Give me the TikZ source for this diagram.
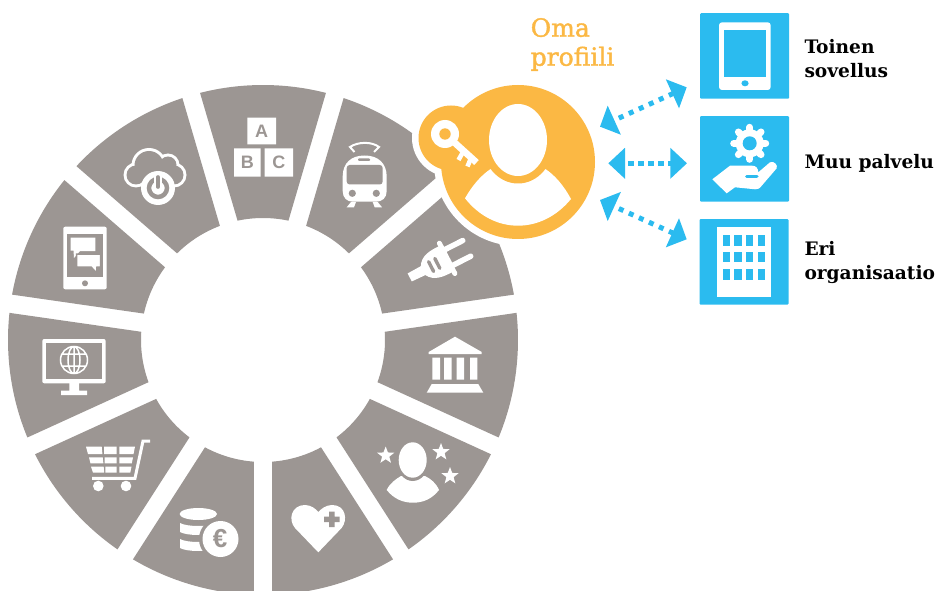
\documentclass[tikz,border=0pt]{standalone}
\usepackage{fontspec}
\setmainfont{DejaVu Serif}
\newfontfamily\iconsans{Liberation Sans}
\newfontfamily\profilefont[FakeBold=1.5]{DejaVu Serif}
\usetikzlibrary{arrows.meta}
\definecolor{wheelgrey}{HTML}{9C9693}
\definecolor{profileorange}{HTML}{FBB844}
\definecolor{appblue}{HTML}{2BBBEF}
\newcommand{\wstar}[3]{\fill[white,shift={(#1,#2)}] (-90:#3) -- (-54:{0.42*#3}) -- (-18:#3) -- (18:{0.42*#3}) -- (54:#3) -- (90:{0.42*#3}) -- (126:#3) -- (162:{0.42*#3}) -- (198:#3) -- (234:{0.42*#3}) -- cycle;}
\tikzset{
  bluebox/.style={fill=appblue,rounded corners=1pt,minimum width=89pt,minimum height=85.5pt,inner sep=0pt,draw=none},
  applabel/.style={font=\bfseries\fontsize{18.6}{24}\selectfont,anchor=base west,inner sep=0pt,align=left,text=black},
  proflabel/.style={font=\profilefont\fontsize{25}{29}\selectfont,anchor=base west,inner sep=0pt,align=left,text=profileorange},
  diagarrow/.style={draw=appblue,line width=5pt,dash pattern=on 5pt off 6pt,dash phase=5pt,{Triangle[length=15.7pt,width=31pt,fill=appblue]}-{Triangle[length=15.7pt,width=31pt,fill=appblue]}},
  midarrow/.style={draw=appblue,line width=5.3pt,dash pattern=on 5.7pt off 4.3pt,dash phase=5.7pt,{Triangle[length=16.7pt,width=30pt,fill=appblue]}-{Triangle[length=16.7pt,width=30pt,fill=appblue]}},
  blockletter/.style={font=\iconsans\bfseries\fontsize{18}{18}\selectfont,text=wheelgrey,inner sep=0pt},
}
\begin{document}
\begin{tikzpicture}[x=1pt,y=1pt,yscale=-1]
\useasboundingbox (0,0) rectangle (938,591);
\clip (0,0) rectangle (938,591);
% wheel
\begin{scope}[shift={(263,340)}]
\foreach \i in {0,...,10}{
  \pgfmathsetmacro\a{-90+\i*360/11}
  \pgfmathsetmacro\ao{\a-14.296}\pgfmathsetmacro\bo{\a+14.296}
  \pgfmathsetmacro\ai{\a-12.04}\pgfmathsetmacro\bi{\a+12.04}
  \fill[wheelgrey] (\ao:255) arc[start angle=\ao,end angle=\bo,radius=255pt] -- (\bi:122) arc[start angle=\bi,end angle=\ai,radius=122pt] -- cycle;
}
\end{scope}
% ABC blocks
\fill[white] (247.3,117.7) rectangle (276,144.3) (234,148.3) rectangle (260.7,176.7) (264.7,148.3) rectangle (293,176.7);
\node[blockletter] (letterA) at (261.6,131) {A};
\node[blockletter] (letterB) at (247.4,162.5) {B};
\node[blockletter] (letterC) at (278.8,162.5) {C};
% train
\fill[white] (342.7,176) .. controls (343,163) and (351,155.5) .. (364.7,155.5) .. controls (378,155.5) and (386.4,163) .. (386.7,176) -- (386.7,191) .. controls (386.7,198) and (382,201.7) .. (376,201.7) -- (353,201.7) .. controls (347,201.7) and (342.7,198) .. (342.7,191) -- cycle;
\fill[wheelgrey,rounded corners=3pt] (346.7,165) rectangle (382.7,184.5);
\fill[wheelgrey,rounded corners=1pt] (358,158.3) rectangle (370,161);
\fill[wheelgrey] (352.3,193.3) circle[radius=3.6pt] (376.3,193.3) circle[radius=3.6pt];
\draw[white,line width=2pt] (354.5,152) -- (350,147) .. controls (358,141.5) and (372,141.5) .. (379,147) -- (374,152);
\fill[white] (346.7,207.3) -- (354,207.3) -- (356,202) -- (351,202) -- cycle (382,207.3) -- (374.7,207.3) -- (372.7,202) -- (377.7,202) -- cycle;
% plug
\begin{scope}[shift={(440,262)},rotate=-27]
\draw[white,line width=5.5pt,line cap=round] (6,-8.8) -- (30,-8.8) (6,8.8) -- (30,8.8);
\draw[white,line width=5pt,line cap=round] (8,-17) -- (8,17);
\fill[white] (8,-14.5) .. controls (-4,-15) and (-14,-14) .. (-19,-5) -- (-34,-4.5) -- (-34,4.5) -- (-19,5) .. controls (-14,14) and (-4,15) .. (8,14.5) -- cycle;
\draw[wheelgrey,line width=3.4pt,line cap=round] (-3,-5.5) -- (-3,5.5) (-10,-5.5) -- (-10,5.5);
\end{scope}
% bank
\fill[white] (455,336.7) -- (481.7,352) -- (481.7,354) -- (428.7,354) -- (428.7,352) -- cycle;
\fill[white] (432.3,357.7) rectangle (440,379.5) (444,357.7) rectangle (451.7,379.5) (456.7,357.7) rectangle (464,379.5) (470,357.7) rectangle (477.3,379.5);
\fill[white] (431.7,384) -- (478.3,384) -- (483.3,392.7) -- (426.7,392.7) -- cycle;
% person with stars
\fill[white] (386.7,490) .. controls (390,483) and (396,479) .. (401,476) -- (425,476) .. controls (431,479) and (436,483) .. (439,490) .. controls (432,499) and (423,502.7) .. (413,502.7) .. controls (403,502.7) and (394,499) .. (386.7,490) -- cycle;
\fill[wheelgrey] (412.7,461) ellipse[x radius=16.2pt,y radius=20pt];
\fill[white] (412.7,460) ellipse[x radius=14pt,y radius=17.7pt];
\wstar{385.7}{455.5}{9}
\wstar{441}{452}{9}
\wstar{450}{476}{9}
% heart
\fill[white] (318.3,552.3) -- (295,528) .. controls (288,520) and (291,505) .. (305,505) .. controls (311,505) and (316,509) .. (318.3,512) .. controls (321,509) and (326,505) .. (332,505) .. controls (346,505) and (348,520) .. (341.6,528) -- cycle;
\fill[wheelgrey] (329,511.5) rectangle (334.5,527) (324,516.5) rectangle (339.5,522);
% coins
\fill[white] (198.3,514) ellipse[x radius=18.7pt,y radius=6pt];
\fill[white] (180,523) .. controls (187,527) and (209,527) .. (217,523) -- (217,532) .. controls (209,536) and (187,536) .. (180,532) -- cycle;
\fill[white] (180,539) .. controls (187,543) and (209,543) .. (217,539) -- (217,548) .. controls (209,552) and (187,552) .. (180,548) -- cycle;
\fill[wheelgrey] (220.5,539) circle[radius=21.5pt];
\fill[white] (220.5,539) circle[radius=18pt];
\node[font=\iconsans\bfseries\fontsize{26}{26}\selectfont,text=wheelgrey,inner sep=0pt] (eurosign) at (220,539) {€};
% cart
\fill[white] (86,446.7) -- (101.7,446.7) -- (102.4,454) -- (88,454) -- cycle (104,446.7) rectangle (116.7,454) (119.3,446.7) -- (135,446.7) -- (133.5,454) -- (119.3,454) -- cycle;
\fill[white] (89,457.3) -- (102.7,457.3) -- (103.4,463.3) -- (90.5,463.3) -- cycle (104.6,457.3) rectangle (116.7,463.3) (119.3,457.3) -- (133,457.3) -- (131.8,463.3) -- (119.3,463.3) -- cycle;
\fill[white] (91,466.7) -- (103.7,466.7) -- (104.2,472.7) -- (93,472.7) -- cycle (105.4,466.7) rectangle (116.7,472.7) (119.3,466.7) -- (131.5,466.7) -- (130.3,472.7) -- (119.3,472.7) -- cycle;
\draw[white,line width=3pt] (150,441) -- (143,441) -- (135,478.3) -- (92,478.3);
\fill[white] (98.3,486) circle[radius=5.3pt] (126,486) circle[radius=5.3pt];
% monitor
\fill[white,rounded corners=2pt] (42.3,339) rectangle (105.7,383.3);
\fill[wheelgrey] (45.7,343.3) rectangle (101.7,379.3);
\fill[white] (69.3,383) rectangle (79,391) (61,390.7) rectangle (87,395);
\draw[white,line width=1.5pt] (74,360) circle[radius=13.5pt] (74,360) ellipse[x radius=6pt,y radius=13.5pt] (74,346.5) -- (74,373.5) (62,354) -- (86,354) (62,366) -- (86,366);
% tablet with chat
\fill[white,rounded corners=2pt] (63.3,226.7) rectangle (106.7,289.3);
\fill[wheelgrey] (67.3,234) rectangle (102.7,277.3);
\fill[wheelgrey] (85,283.3) circle[radius=3pt];
\fill[white] (70.7,237.7) -- (95.3,237.7) -- (95.3,251) -- (80,251) -- (74,258) -- (73.5,250.5) -- (70.7,250.5) -- cycle;
\fill[white,draw=wheelgrey,line width=1.5pt] (76.5,254) -- (100.5,254) -- (100.5,267) -- (97,267) -- (96.7,273) -- (91,267) -- (76.5,267) -- cycle;
% cloud with power sign
\fill[white] (149,165.5) circle[radius=17.5pt] (136,175) circle[radius=12.5pt] (168,165) circle[radius=11.5pt] (174,175) circle[radius=12.5pt] (155,180) circle[radius=12pt];
\fill[wheelgrey] (149,165.5) circle[radius=14.5pt] (136,175) circle[radius=9.5pt] (168,165) circle[radius=8.5pt] (174,175) circle[radius=9.5pt] (155,178) circle[radius=12pt];
\fill[white] (158,188) circle[radius=17pt];
\draw[wheelgrey,line width=4.5pt] (158,188) circle[radius=9pt];
\draw[white,line width=8.5pt] (158,175) -- (158,187);
\draw[wheelgrey,line width=3.6pt,line cap=round] (158,177) -- (158,187);
% profile
\fill[white] (518,162) circle[radius=84pt] (451,138) circle[radius=39pt];
\node[circle,fill=profileorange,minimum size=154pt,inner sep=0pt] (profile) at (518,162) {};
\node[circle,fill=profileorange,minimum size=65pt,inner sep=0pt] (keylobe) at (451,138) {};
\fill[white] (465,198.3) .. controls (472,186) and (481,175) .. (491.7,168.3) -- (544.3,168.3) .. controls (555,175) and (564,186) .. (571,199) .. controls (557,216) and (538,225.7) .. (518,225.7) .. controls (498,225.7) and (479,216) .. (465,198.3) -- cycle;
\fill[profileorange] (518,142) ellipse[x radius=36pt,y radius=41.5pt];
\fill[white] (518,140) ellipse[x radius=29pt,y radius=36pt];
\draw[white,line width=6.7pt] (445,134) -- (476.5,162.5);
\draw[white,line width=4.5pt] (463,152) -- (458.5,160) (471,158) -- (467.5,166.5);
\fill[white] (445,134) circle[radius=14pt];
\fill[profileorange] (445,134) circle[radius=5.7pt];
\node[proflabel] (profiletext) at (530.5,65.7) {Oma\\profiili};
% app boxes
\node[bluebox] (app1) at (744.5,56) {};
\node[bluebox] (app2) at (744.5,158.9) {};
\node[bluebox] (app3) at (744,261.9) {};
% tablet icon
\fill[white,rounded corners=3pt] (719,22.3) rectangle (770.7,90);
\fill[appblue] (724,30) rectangle (766.3,76.7);
\fill[appblue] (745,83.3) ellipse[x radius=3.6pt,y radius=3pt];
% gear and hand
\foreach \t in {0,45,...,315}{
  \draw[white,line width=7pt,line cap=round] (749.7,143.3) ++(\t:10) -- ++(\t:6);
}
\fill[white] (749.7,143.3) circle[radius=14pt];
\fill[appblue] (749.7,143.3) circle[radius=7pt];
\fill[white] (712.3,179.3) -- (726.7,193.3) -- (735,187.3) -- (755,189.3) .. controls (758,189.3) and (759,188.5) .. (760,187.7) -- (776.7,168.3) .. controls (778,165) and (774,160.5) .. (770,162.3) -- (758.3,172.3) .. controls (758,168) and (756,165.7) .. (752,165.7) -- (730,165.7) -- cycle;
\draw[appblue,line width=3pt,line cap=round] (746.5,177) -- (757,177);
% building icon
\fill[white] (717,226.7) rectangle (770.7,297);
\foreach \cx in {723,734.3,746,757.7}{
  \foreach \cy in {235,251.7,269}{
    \fill[appblue] (\cx,\cy) rectangle ++(7.2,10.5);
  }
}
% labels
\node[applabel] (label1) at (804.3,77.3) {Toinen\\sovellus};
\node[applabel] (label2) at (804.3,168.7) {Muu palvelu};
\node[applabel] (label3) at (804.3,279) {Eri\\organisaatio};
% arrows
\coordinate (a1s) at (600,126.7);
\coordinate (a1e) at (686.7,87.3);
\coordinate (a2s) at (608.3,163.3);
\coordinate (a2e) at (687,163.3);
\coordinate (a3s) at (600,200);
\coordinate (a3e) at (686.7,239.3);
\draw[diagarrow] (a1s) -- (a1e);
\draw[midarrow] (a2s) -- (a2e);
\draw[diagarrow] (a3s) -- (a3e);
\end{tikzpicture}
\end{document}
